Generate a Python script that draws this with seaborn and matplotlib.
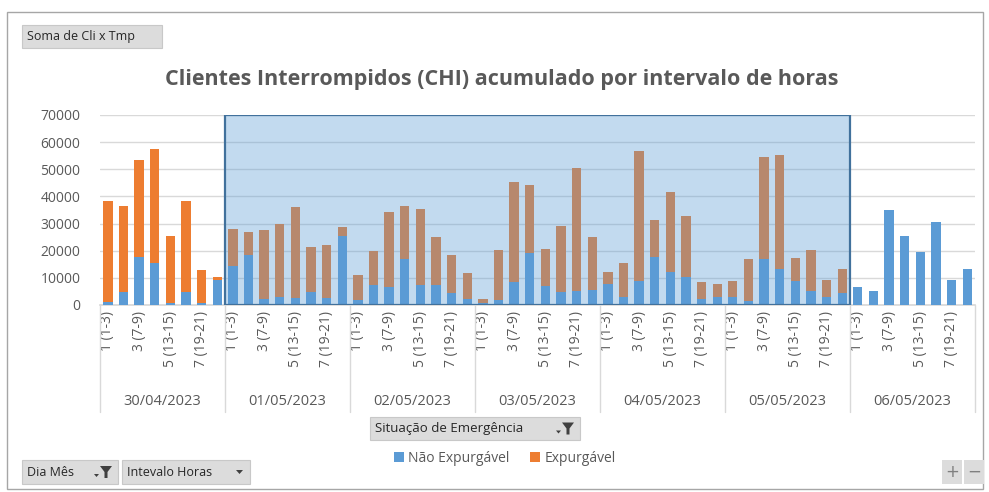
import matplotlib
matplotlib.use("Agg")
import matplotlib.pyplot as plt
import seaborn as sns
import pandas as pd
import numpy as np
from matplotlib.patches import Rectangle, Polygon, Patch

# ---------------- data ----------------
days = ["30/04/2023", "01/05/2023", "02/05/2023", "03/05/2023",
        "04/05/2023", "05/05/2023", "06/05/2023"]
intervals = ["1 (1-3)", "2 (4-6)", "3 (7-9)", "4 (10-12)",
             "5 (13-15)", "6 (16-18)", "7 (19-21)", "8 (22-24)"]
shown_intervals = ["1 (1-3)", "3 (7-9)", "5 (13-15)", "7 (19-21)"]

nao_expurgavel = [
    1200, 4800, 17800, 15500, 900, 4800, 900, 9100,        # 30/04
    14400, 18500, 2100, 3000, 2600, 4800, 2600, 25500,     # 01/05
    1800, 7400, 6500, 16900, 7400, 7400, 4300, 2100,       # 02/05
    900, 1800, 8300, 19100, 7000, 4800, 5200, 5700,        # 03/05
    7900, 3000, 8800, 17800, 12200, 10400, 2100, 3000,     # 04/05
    3000, 1400, 16900, 13100, 8800, 5200, 3000, 4300,      # 05/05
    6500, 5200, 35000, 25500, 19500, 30700, 9100, 13100,   # 06/05
]
total = [
    38500, 36400, 53500, 57600, 25500, 38500, 12900, 10400,
    28100, 26900, 27700, 29800, 36000, 21200, 22100, 28600,
    10900, 19900, 34200, 36400, 35500, 25200, 18600, 11700,
    2200, 20300, 45500, 44100, 20800, 29000, 50600, 25200,
    12100, 15500, 56700, 31200, 41600, 32900, 8300, 7900,
    8800, 16900, 54500, 55400, 17300, 20300, 9100, 13100,
    6500, 5200, 35000, 25500, 19500, 30700, 9100, 13100,
]
highlight_days = ["01/05/2023", "05/05/2023"]

title = "Clientes Interrompidos (CHI) acumulado por intervalo de horas"

# ---------------- frame ----------------
rows = []
for di, d in enumerate(days):
    for ii, it in enumerate(intervals):
        k = di * len(intervals) + ii
        rows.append({"key": f"{d} {it}", "day": d, "interval": it,
                     "nao": nao_expurgavel[k], "total": total[k]})
df = pd.DataFrame(rows)

BLUE = "#5B9BD5"
ORANGE = "#ED7D31"
GRID = "#D9D9D9"
TXT = "#595959"

sns.set_theme(style="white")
plt.rcParams["font.family"] = ["Open Sans", "DejaVu Sans"]

W, H = 989, 492
fig = plt.figure(figsize=(W / 100, H / 100), dpi=100)


def fx(px):
    return px / W


def fy(py):
    return 1 - py / H


ax = fig.add_axes([fx(100), fy(305), fx(975) - fx(100), fy(115) - fy(305)])

order = list(df["key"])
sns.barplot(data=df, x="key", y="total", order=order, color=ORANGE,
            width=0.6, saturation=1, ax=ax, zorder=2, linewidth=0, edgecolor="none")
sns.barplot(data=df, x="key", y="nao", order=order, color=BLUE,
            width=0.6, saturation=1, ax=ax, zorder=3, linewidth=0, edgecolor="none")

ax.set_ylim(0, 70000)
ax.set_xlim(-0.5, len(order) - 0.5)
ax.set_yticks(np.arange(0, 70001, 10000))
ax.set_yticklabels([f"{v:d}" for v in range(0, 70001, 10000)], color=TXT, fontsize=10)
ax.yaxis.grid(True, color=GRID, linewidth=1, zorder=0)
ax.set_axisbelow(True)
for s in ["top", "right", "left"]:
    ax.spines[s].set_visible(False)
ax.spines["bottom"].set_color(GRID)
ax.set_xlabel("")
ax.set_ylabel("")
ax.tick_params(axis="y", length=0, pad=14)

ax.set_xticks(range(len(order)))
ax.set_xticklabels([it if it in shown_intervals else "" for it in df["interval"]],
                   rotation=90, color=TXT, fontsize=10, va="top")
ax.tick_params(axis="x", length=0, pad=4)

# day group labels and separators
n = len(intervals)
trans = ax.get_xaxis_transform()
sep_bottom = -(412 - 305) / (305 - 115)
for di, d in enumerate(days):
    center = di * n + (n - 1) / 2
    ax.text(center, -(402 - 305) / (305 - 115), d, transform=trans,
            ha="center", va="center", fontsize=10.5, color=TXT)
for b in range(len(days) + 1):
    xb = b * n - 0.5
    ax.plot([xb, xb], [0, sep_bottom], transform=trans, color=GRID,
            linewidth=1, clip_on=False, zorder=1)

# selection highlight over days 01/05 .. 05/05
i0 = days.index(highlight_days[0]) * n - 0.5
i1 = (days.index(highlight_days[1]) + 1) * n - 0.5
ax.add_patch(Rectangle((i0, 0), i1 - i0, 70000, facecolor="#5B9BD5", alpha=0.37,
                       edgecolor="none", zorder=5))
ax.add_patch(Rectangle((i0, 0), i1 - i0, 70000, facecolor="none",
                       edgecolor="#41719C", linewidth=1.6, zorder=6))

# title
fig.text(fx(502), fy(80), title, ha="center", va="center", fontsize=15.5,
         fontweight="bold", color=TXT)

# outer chart border
fig.add_artist(Rectangle((fx(7), fy(489)), fx(983) - fx(7), fy(12) - fy(489),
                         transform=fig.transFigure, facecolor="none",
                         edgecolor="#A6A6A6", linewidth=1))


def button(x0, y0, x1, y1, label, icon=None, fs=9):
    fig.add_artist(Rectangle((fx(x0), fy(y1)), fx(x1) - fx(x0), fy(y0) - fy(y1),
                             transform=fig.transFigure, facecolor="#DCDCDC",
                             edgecolor="#C8C8C8", linewidth=0.8))
    fig.text(fx(x0 + 5), fy((y0 + y1) / 2), label, ha="left", va="center",
             fontsize=fs, color="#262626", family=["Open Sans", "DejaVu Sans"])
    cy = (y0 + y1) / 2
    if icon == "filter":
        ix = x1 - 18
        fig.add_artist(Polygon([(fx(ix), fy(cy - 6)), (fx(ix + 12), fy(cy - 6)),
                                (fx(ix + 7.5), fy(cy)), (fx(ix + 7.5), fy(cy + 6)),
                                (fx(ix + 4.5), fy(cy + 6)), (fx(ix + 4.5), fy(cy))],
                               closed=True, transform=fig.transFigure,
                               facecolor="#404040", edgecolor="none"))
        fig.add_artist(Polygon([(fx(ix - 6), fy(cy + 2)), (fx(ix - 1), fy(cy + 2)),
                                (fx(ix - 3.5), fy(cy + 5))], closed=True,
                               transform=fig.transFigure, facecolor="#404040",
                               edgecolor="none"))
    elif icon == "drop":
        ix = x1 - 14
        fig.add_artist(Polygon([(fx(ix), fy(cy - 2)), (fx(ix + 7), fy(cy - 2)),
                                (fx(ix + 3.5), fy(cy + 2))], closed=True,
                               transform=fig.transFigure, facecolor="#404040",
                               edgecolor="none"))


button(22, 25, 162, 48, "Soma de Cli x Tmp")
button(370, 417, 580, 440, "Situação de Emergência", icon="filter", fs=9.5)
button(22, 460, 118, 484, "Dia Mês", icon="filter")
button(122, 460, 250, 484, "Intevalo Horas", icon="drop")

# +/- buttons
for (x0, x1, s) in [(942, 962, "+"), (964, 984, "−")]:
    fig.add_artist(Rectangle((fx(x0), fy(484)), fx(x1) - fx(x0), fy(460) - fy(484),
                             transform=fig.transFigure, facecolor="#DCDCDC",
                             edgecolor="none"))
    fig.text(fx((x0 + x1) / 2), fy(472), s, ha="center", va="center",
             fontsize=12, color="#7F7F7F", family=["DejaVu Sans"])

# legend
handles = [Patch(facecolor=BLUE, edgecolor="none", label="Não Expurgável"),
           Patch(facecolor=ORANGE, edgecolor="none", label="Expurgável")]
fig.legend(handles=handles, loc="center", bbox_to_anchor=(fx(505), fy(458)),
           ncol=2, frameon=False, fontsize=10, handlelength=0.7,
           handleheight=0.7, handletextpad=0.3, columnspacing=1.5,
           labelcolor=TXT)

fig.savefig("out.png", dpi=100)
